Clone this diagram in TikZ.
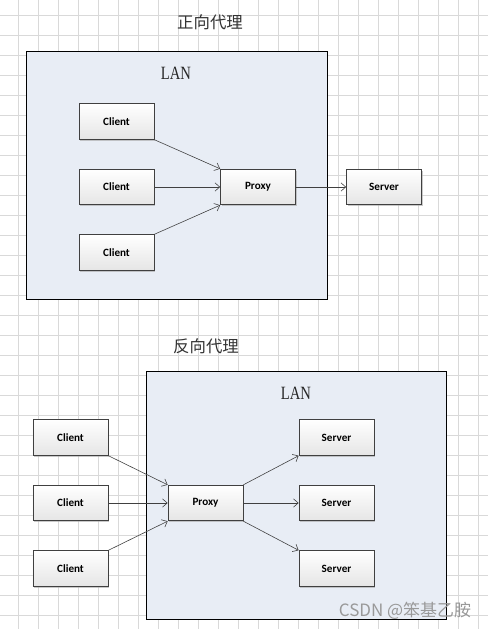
\documentclass[tikz,border=0pt]{standalone}
\usepackage{fontspec}
\usepackage{tikz}
\usetikzlibrary{arrows.meta,positioning,shadows}
\newfontfamily\boxfont{Carlito}
\newfontfamily\cjkfont{Noto Sans CJK SC}
\newfontfamily\lanfont{Liberation Serif}
\definecolor{gridgray}{HTML}{D9D9D9}
\definecolor{lanfill}{HTML}{E8EDF5}
\definecolor{linegray}{HTML}{404040}

\tikzset{
    box/.style={draw=linegray, line width=0.6pt, top color=white, bottom color=black!10,
        minimum width=2.25cm, minimum height=1.07cm, inner sep=0pt,
        font=\boxfont\bfseries\fontsize{9.5pt}{11pt}\selectfont,
        drop shadow={shadow xshift=1.2pt, shadow yshift=-1.2pt, fill=black!35, opacity=0.6}},
    lan/.style={draw=black, line width=0.7pt, fill=lanfill},
    flow/.style={draw=linegray, line width=0.5pt, -{Straight Barb[length=4pt,width=7pt]}},
    title/.style={font=\cjkfont\fontsize{14pt}{16pt}\selectfont, text=black!80},
    lantext/.style={font=\lanfont\fontsize{16pt}{18pt}\selectfont, xscale=0.78, transform shape, text=black!85},
}

\begin{document}
\begin{tikzpicture}[x=0.03cm, y=-0.03cm]
    \useasboundingbox (0,0) rectangle (488,629);
    % Background grid
    \fill[white] (0,0) rectangle (488,629);
    \foreach \x in {18,38,...,478} \draw[gridgray, line width=0.5pt] (\x,0) -- (\x,629);
    \foreach \y in {15,35,...,615} \draw[gridgray, line width=0.5pt] (0,\y) -- (488,\y);

    % Forward proxy
    \node[title] (fwdtitle) at (210,22) {正向代理};
    \draw[lan] (26,51) rectangle (327,299);
    \node[lantext] (fwdlan) at (176,73) {LAN};
    \node[box] (fc1) at (116.5,121.5) {Client};
    \node[box] (fc2) at (116.5,187) {Client};
    \node[box] (fc3) at (116.5,252.5) {Client};
    \node[box] (fproxy) at (258,187) {Proxy};
    \node[box] (fserver) at (384,187) {Server};
    % Arrows
    \draw[flow] (fc1.south east) -- (fproxy.north west);
    \draw[flow] (fc2) -- (fproxy);
    \draw[flow] (fc3.north east) -- (fproxy.south west);
    \draw[flow] (fproxy) -- (fserver);

    % Reverse proxy
    \node[title] (revtitle) at (206,346) {反向代理};
    \draw[lan] (146,371) rectangle (446,619);
    \node[lantext] (revlan) at (296,393) {LAN};
    \node[box] (rc1) at (70.5,437.5) {Client};
    \node[box] (rc2) at (70.5,503) {Client};
    \node[box] (rc3) at (70.5,568.5) {Client};
    \node[box] (rproxy) at (205.5,503) {Proxy};
    \node[box] (rs1) at (336.5,437.5) {Server};
    \node[box] (rs2) at (336.5,503) {Server};
    \node[box] (rs3) at (336.5,568.5) {Server};
    % Arrows
    \draw[flow] (rc1.south east) -- (rproxy.north west);
    \draw[flow] (rc2) -- (rproxy);
    \draw[flow] (rc3.north east) -- (rproxy.south west);
    \draw[flow] (rproxy.north east) -- (rs1.south west);
    \draw[flow] (rproxy) -- (rs2);
    \draw[flow] (rproxy.south east) -- (rs3.north west);

    % Watermark
    \node[font=\cjkfont\fontsize{14.5pt}{16pt}\selectfont, text=black!40] (mark) at (405,611) {CSDN @笨基乙胺};
\end{tikzpicture}
\end{document}
